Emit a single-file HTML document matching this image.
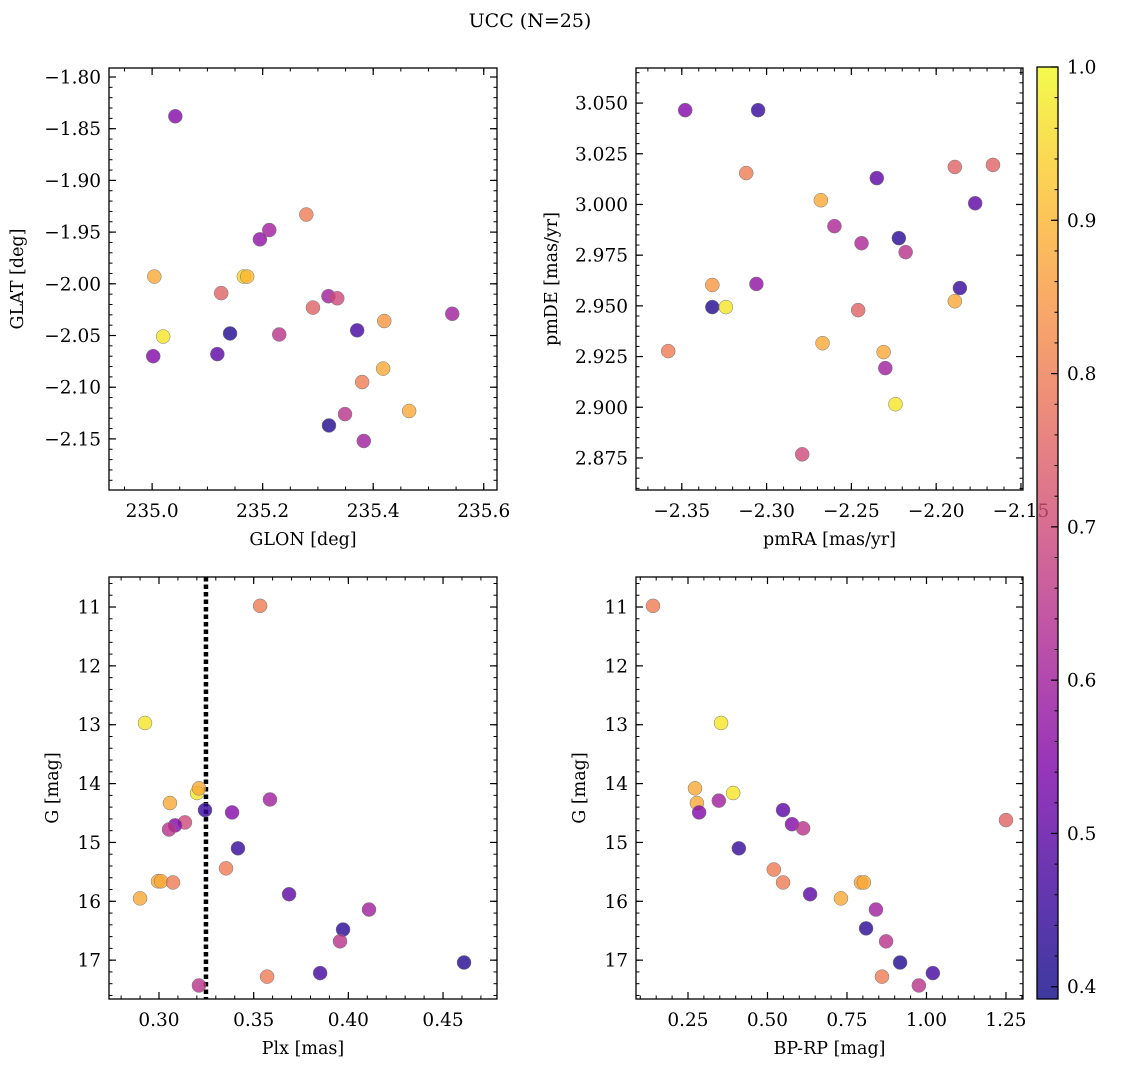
<!DOCTYPE html>
<html><head><meta charset="utf-8"><style>
body{margin:0;background:#fff}
svg text{font-family:"DejaVu Serif","Liberation Serif",serif;fill:#000}
</style></head><body>
<svg id="fig" width="1136" height="1067" xmlns="http://www.w3.org/2000/svg">
<text x="530" y="27" font-size="19" text-anchor="middle">UCC (N=25)</text>
</svg>
<script>
// Panel 1: GLON vs GLAT
const glon1=[235.042,235.279,235.212,235.195,235.004,235.166,235.172,235.125,235.319,235.335,235.291,235.543,235.420,235.141,235.230,235.371,235.020,235.002,235.118,235.418,235.380,235.465,235.349,235.320,235.383];
const glat1=[-1.838,-1.933,-1.948,-1.957,-1.993,-1.993,-1.993,-2.009,-2.012,-2.014,-2.023,-2.029,-2.036,-2.048,-2.049,-2.045,-2.051,-2.070,-2.068,-2.082,-2.095,-2.123,-2.126,-2.137,-2.152];
const prob1=[0.55,0.8,0.6,0.57,0.88,0.95,0.9,0.75,0.6,0.7,0.75,0.6,0.85,0.42,0.65,0.47,0.97,0.55,0.5,0.88,0.8,0.88,0.65,0.42,0.6];
// Panel 2: pmRA vs pmDE
const pmra2=[-2.348,-2.305,-2.1665,-2.189,-2.312,-2.235,-2.177,-2.268,-2.260,-2.222,-2.244,-2.218,-2.332,-2.306,-2.186,-2.332,-2.324,-2.189,-2.246,-2.358,-2.267,-2.231,-2.230,-2.224,-2.279];
const pmde2=[3.0465,3.0465,3.0195,3.0185,3.0155,3.0130,3.0006,3.0021,2.9893,2.9834,2.9809,2.9765,2.9603,2.9608,2.9588,2.9494,2.9494,2.9523,2.9479,2.9277,2.9316,2.9272,2.9193,2.9015,2.8768];
const prob2=[0.55,0.45,0.75,0.75,0.8,0.5,0.5,0.88,0.62,0.43,0.62,0.65,0.85,0.57,0.45,0.42,0.97,0.88,0.75,0.8,0.88,0.88,0.6,0.97,0.7];
// Panel 3: Plx vs G
const plx3=[0.3534,0.2926,0.3201,0.3211,0.3058,0.3243,0.3386,0.3586,0.3137,0.3085,0.3053,0.3417,0.3354,0.2995,0.3011,0.3074,0.3687,0.2900,0.4109,0.3972,0.3956,0.4611,0.3851,0.3571,0.3211];
const g3=[10.98,12.97,14.16,14.08,14.33,14.45,14.49,14.27,14.66,14.71,14.78,15.10,15.44,15.66,15.66,15.68,15.88,15.95,16.14,16.48,16.68,17.04,17.22,17.28,17.43];
const prob3=[0.8,0.97,0.97,0.88,0.88,0.45,0.55,0.6,0.7,0.55,0.65,0.45,0.8,0.88,0.88,0.8,0.5,0.88,0.6,0.43,0.65,0.42,0.47,0.8,0.65];
const plxLine=[0.3248];
// Panel 4: BP-RP vs G
const bprp4=[0.140,0.354,0.272,0.278,0.285,0.347,0.392,0.549,0.577,0.612,1.250,0.410,0.520,0.549,0.794,0.803,0.634,0.731,0.841,0.810,0.873,0.917,1.020,0.860,0.976];
const g4=[10.98,12.97,14.08,14.33,14.49,14.29,14.16,14.45,14.69,14.76,14.62,15.10,15.46,15.68,15.68,15.68,15.88,15.95,16.14,16.46,16.68,17.04,17.22,17.28,17.43];
const prob4=[0.8,0.97,0.88,0.88,0.55,0.6,0.97,0.5,0.55,0.65,0.75,0.45,0.8,0.8,0.88,0.88,0.5,0.88,0.6,0.43,0.65,0.42,0.47,0.8,0.65];
// tick labels
const xt1=[235.0,235.2,235.4,235.6], yt1=[-1.80,-1.85,-1.90,-1.95,-2.00,-2.05,-2.10,-2.15];
const xt2=[-2.35,-2.30,-2.25,-2.20,-2.15], yt2=[3.050,3.025,3.000,2.975,2.950,2.925,2.900,2.875];
const xt3=[0.30,0.35,0.40,0.45], yt3=[11,12,13,14,15,16,17];
const xt4=[0.25,0.50,0.75,1.00,1.25], yt4=[11,12,13,14,15,16,17];
const cbTicks=[0.4,0.5,0.6,0.7,0.8,0.9,1.0];
const VMIN=0.392, VMAX=1.0;

const NS="http://www.w3.org/2000/svg", svg=document.getElementById('fig');
function mk(t,a,p){const e=document.createElementNS(NS,t);for(const k in a)e.setAttribute(k,a[k]);(p||svg).appendChild(e);return e;}
const stops=[[0,[13,8,135]],[0.125,[65,4,157]],[0.25,[126,3,168]],[0.375,[170,35,149]],[0.5,[204,71,120]],[0.625,[230,108,92]],[0.75,[248,149,64]],[0.875,[253,195,40]],[1,[240,249,33]]];
function plasma(v){let t=Math.max(0,Math.min(1,(v-VMIN)/(VMAX-VMIN)));for(let i=1;i<stops.length;i++){if(t<=stops[i][0]){const a=stops[i-1],b=stops[i],f=(t-a[0])/(b[0]-a[0]);return 'rgb('+a[1].map((c,j)=>Math.round(c+(b[1][j]-c)*f)).join(',')+')';}}return 'rgb(240,249,33)';}
const TF=18.5, LF=17.5;
function panel(o){
  const {L,T,W,H,x0,x1,y0,y1}=o;
  const sx=v=>L+(v-x0)/(x1-x0)*W, sy=v=>T+(v-y0)/(y1-y0)*H;
  const g=mk('g',{});  
  const fx=(a,b)=>Math.min(a,b), tx=(a,b)=>Math.max(a,b);
  for(let k=Math.ceil(fx(x0,x1)/o.xm-1e-6);k*o.xm<=tx(x0,x1)+1e-9;k++){const X=sx(k*o.xm);mk('line',{x1:X,x2:X,y1:T+H,y2:T+H-3.5,stroke:'#000','stroke-width':1},g);mk('line',{x1:X,x2:X,y1:T,y2:T+3.5,stroke:'#000','stroke-width':1},g);}
  for(let k=Math.ceil(fx(y0,y1)/o.ym-1e-6);k*o.ym<=tx(y0,y1)+1e-9;k++){const Y=sy(k*o.ym);mk('line',{x1:L,x2:L+3.5,y1:Y,y2:Y,stroke:'#000','stroke-width':1},g);mk('line',{x1:L+W,x2:L+W-3.5,y1:Y,y2:Y,stroke:'#000','stroke-width':1},g);}
  o.xt.forEach(v=>{const X=sx(v);mk('line',{x1:X,x2:X,y1:T+H,y2:T+H-7,stroke:'#000','stroke-width':1.2},g);mk('line',{x1:X,x2:X,y1:T,y2:T+7,stroke:'#000','stroke-width':1.2},g);
    const t=mk('text',{x:X,y:T+H+27,'font-size':TF,'text-anchor':'middle'},g);t.textContent=v.toFixed(o.xd).replace('-','\u2212');});
  o.yt.forEach(v=>{const Y=sy(v);mk('line',{x1:L,x2:L+7,y1:Y,y2:Y,stroke:'#000','stroke-width':1.2},g);mk('line',{x1:L+W,x2:L+W-7,y1:Y,y2:Y,stroke:'#000','stroke-width':1.2},g);
    const t=mk('text',{x:L-8,y:Y+6.5,'font-size':TF,'text-anchor':'end'},g);t.textContent=v.toFixed(o.yd).replace('-','\u2212');});
  if(o.vline){o.vline.forEach(v=>{const l=mk('line',{x1:sx(v),x2:sx(v),y1:T,y2:T+H,stroke:'#000','stroke-width':4.5,'stroke-dasharray':'4.5,3'},g);});}
  o.xs.forEach((v,i)=>{const c=mk('circle',{cx:sx(v),cy:sy(o.ys[i]),r:7,fill:plasma(o.cs[i]),'fill-opacity':0.8,stroke:'#777','stroke-width':0.5},g);});
  mk('rect',{x:L,y:T,width:W,height:H,fill:'none',stroke:'#000','stroke-width':1.3},g);
  const xl=mk('text',{x:L+W/2,y:T+H+55,'font-size':LF,'text-anchor':'middle'},g);xl.textContent=o.xlab;
  const yl=mk('text',{x:0,y:0,'font-size':LF,'text-anchor':'middle',transform:`translate(${o.ylx},${T+H/2}) rotate(-90)`},g);yl.textContent=o.ylab;
}
panel({name:'glon-glat-panel',L:109,T:68,W:388,H:422,x0:234.922,x1:235.624,y0:-1.7913,y1:-2.1994,xm:0.05,ym:0.01,xt:xt1,yt:yt1,xd:1,yd:2,xs:glon1,ys:glat1,cs:prob1,xlab:'GLON [deg]',ylab:'GLAT [deg]',ylx:23});
panel({name:'pm-panel',L:636,T:68,W:387,H:422,x0:-2.377,x1:-2.1488,y0:3.0673,y1:2.8592,xm:0.01,ym:0.005,xt:xt2,yt:yt2,xd:2,yd:3,xs:pmra2,ys:pmde2,cs:prob2,xlab:'pmRA [mas/yr]',ylab:'pmDE [mas/yr]',ylx:557});
panel({name:'plx-g-panel',L:109,T:577,W:388,H:422,x0:0.2736,x1:0.4785,y0:10.49,y1:17.66,xm:0.01,ym:0.2,xt:xt3,yt:yt3,xd:2,yd:0,xs:plx3,ys:g3,cs:prob3,vline:plxLine,xlab:'Plx [mas]',ylab:'G [mag]',ylx:58});
panel({name:'cmd-panel',L:636,T:577,W:387,H:422,x0:0.0865,x1:1.3035,y0:10.49,y1:17.66,xm:0.05,ym:0.2,xt:xt4,yt:yt4,xd:2,yd:0,xs:bprp4,ys:g4,cs:prob4,xlab:'BP-RP [mag]',ylab:'G [mag]',ylx:585});
// colorbar
const cb=mk('g',{});
const CL=1037,CT=67,CW=21,CH=932,cy=v=>CT+(VMAX-v)/(VMAX-VMIN)*CH;
const defs=mk('defs',{},cb),grad=mk('linearGradient',{id:'cbg',x1:0,y1:1,x2:0,y2:0},defs);
for(let i=0;i<=20;i++){mk('stop',{offset:i/20,'stop-color':plasma(VMIN+(VMAX-VMIN)*i/20),'stop-opacity':0.8},grad);}
mk('rect',{x:CL,y:CT,width:CW,height:CH,fill:'url(#cbg)'},cb);
for(let k=20;k<=50;k++){const v=k*0.02;if(v<VMIN-1e-9||v>VMAX+1e-9)continue;const Y=cy(v);mk('line',{x1:CL+CW,x2:CL+CW-3.5,y1:Y,y2:Y,stroke:'#000','stroke-width':1},cb);}
cbTicks.forEach(v=>{const Y=cy(v);mk('line',{x1:CL+CW,x2:CL+CW-7,y1:Y,y2:Y,stroke:'#000','stroke-width':1.2},cb);const t=mk('text',{x:CL+CW+9,y:Y+6.5,'font-size':TF},cb);t.textContent=v.toFixed(1);});
mk('rect',{x:CL,y:CT,width:CW,height:CH,fill:'none',stroke:'#000','stroke-width':1.3},cb);
</script>
</body></html>
